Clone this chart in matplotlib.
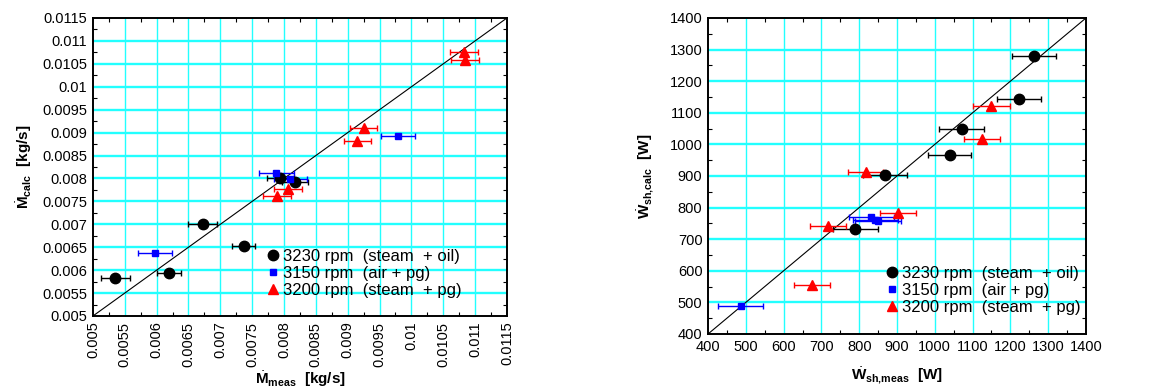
import matplotlib
matplotlib.use('Agg')
import matplotlib.pyplot as plt
import numpy as np

plt.rcParams['font.family'] = ['Liberation Sans', 'DejaVu Sans']
plt.rcParams['mathtext.fontset'] = 'custom'
plt.rcParams['mathtext.rm'] = 'Liberation Sans'
plt.rcParams['mathtext.bf'] = 'Liberation Sans:bold'
plt.rcParams['mathtext.it'] = 'Liberation Sans:italic'

# ---- mass flow (left panel) ----
m_oil_meas = [0.00535, 0.0062, 0.00672, 0.00737, 0.00794, 0.00817]
m_oil_calc = [0.00582, 0.00593, 0.00701, 0.00652, 0.00800, 0.00792]
m_oil_err = [0.00023, 0.00019, 0.00022, 0.00018, 0.00021, 0.00020]

m_air_meas = [0.00597, 0.00788, 0.00810, 0.00979]
m_air_calc = [0.00638, 0.00812, 0.00799, 0.00893]
m_air_err = [0.00027, 0.00028, 0.00026, 0.00027]

m_pg_meas = [0.00789, 0.00807, 0.00925, 0.00915, 0.01082, 0.01084]
m_pg_calc = [0.00761, 0.00777, 0.00910, 0.00882, 0.01075, 0.01059]
m_pg_err = [0.00022, 0.00022, 0.00021, 0.00021, 0.00022, 0.00022]

# ---- shaft power (right panel) ----
w_oil_meas = [1262, 1222, 1071, 1039, 868, 790]
w_oil_calc = [1279, 1145, 1048, 968, 903, 733]
w_oil_err = [58, 58, 59, 58, 58, 59]

w_air_meas = [486, 832, 843, 850]
w_air_calc = [489, 770, 762, 757]
w_air_err = [59, 60, 60, 60]

w_pg_meas = [1150, 1125, 817, 718, 902, 676]
w_pg_calc = [1123, 1017, 913, 743, 783, 556]
w_pg_err = [48, 48, 47, 48, 48, 48]

labels = ['3230 rpm  (steam  + oil)', '3150 rpm  (air + pg)', '3200 rpm  (steam  + pg)']

GRID_C = '#22ffff'

fig = plt.figure(figsize=(11.59, 3.87), dpi=100)
ax1 = fig.add_axes([0.0802, 0.1835, 0.3572, 0.770])
ax2 = fig.add_axes([0.6109, 0.137, 0.3261, 0.8165])


def style_axes(ax, lo, hi, step, minor):
    ax.set_xlim(lo, hi)
    ax.set_ylim(lo, hi)
    ticks = np.arange(lo, hi + step / 2, step)
    ax.set_xticks(ticks)
    ax.set_yticks(ticks)
    ax.set_xticks(np.arange(lo + minor, hi, step), minor=True)
    ax.set_yticks(np.arange(lo + minor, hi, step), minor=True)
    for t in ticks[1:-1]:
        ax.axvline(t, color=GRID_C, lw=1.0, zorder=0)
        ax.axhline(t, color=GRID_C, lw=1.7, zorder=0)
    ax.tick_params(which='major', direction='in', length=0, labelsize=10.5, pad=4)
    ax.tick_params(which='minor', direction='in', length=3, width=0.8,
                   top=True, right=True)
    for s in ax.spines.values():
        s.set_linewidth(1.4)
    ax.plot([lo, hi], [lo, hi], color='black', lw=0.8, zorder=1)


def draw_series(ax, data):
    for (xm, yc, xe, marker, color, ms), lab in zip(data, labels):
        ax.errorbar(xm, yc, xerr=xe, fmt=marker, color=color, ecolor=color,
                    ms=ms, elinewidth=1.0, capsize=2, capthick=1.0,
                    label=lab, zorder=3)


mass_ticks = [f'{v:g}' for v in np.arange(0.005, 0.01151, 0.0005).round(5)]

style_axes(ax1, 0.005, 0.0115, 0.0005, 0.00025)
ax1.set_xticklabels(mass_ticks, rotation=90)
ax1.set_yticklabels(mass_ticks)
draw_series(ax1, [
    (m_oil_meas, m_oil_calc, m_oil_err, 'o', 'black', 7.5),
    (m_air_meas, m_air_calc, m_air_err, 's', 'blue', 5),
    (m_pg_meas, m_pg_calc, m_pg_err, '^', 'red', 6.5),
])
ax1.set_xlabel(r'$\dot{\mathbf{M}}_{\mathbf{meas}}$  [kg/s]', fontsize=11,
               fontweight='bold', labelpad=2)
ax1.set_ylabel(r'$\dot{\mathbf{M}}_{\mathbf{calc}}$  [kg/s]', fontsize=11,
               fontweight='bold', labelpad=6)

style_axes(ax2, 400, 1400, 100, 50)
draw_series(ax2, [
    (w_oil_meas, w_oil_calc, w_oil_err, 'o', 'black', 7.5),
    (w_air_meas, w_air_calc, w_air_err, 's', 'blue', 5),
    (w_pg_meas, w_pg_calc, w_pg_err, '^', 'red', 6.5),
])
ax2.set_xlabel(r'$\dot{\mathbf{W}}_{\mathbf{sh{,}meas}}$  [W]', fontsize=11,
               fontweight='bold', labelpad=9)
ax2.set_ylabel(r'$\dot{\mathbf{W}}_{\mathbf{sh{,}calc}}$  [W]', fontsize=11,
               fontweight='bold', labelpad=10)

for ax, loc in [(ax1, (0.415, 0.05)), (ax2, (0.465, 0.05))]:
    h, l = ax.get_legend_handles_labels()
    h = [hh[0] for hh in h]
    ax.legend(h, l, loc=loc, frameon=False, fontsize=12, handlelength=0.6,
              handletextpad=0.3, labelspacing=0.12, borderpad=0.2)

fig.savefig('out.png', dpi=100, facecolor='white')
